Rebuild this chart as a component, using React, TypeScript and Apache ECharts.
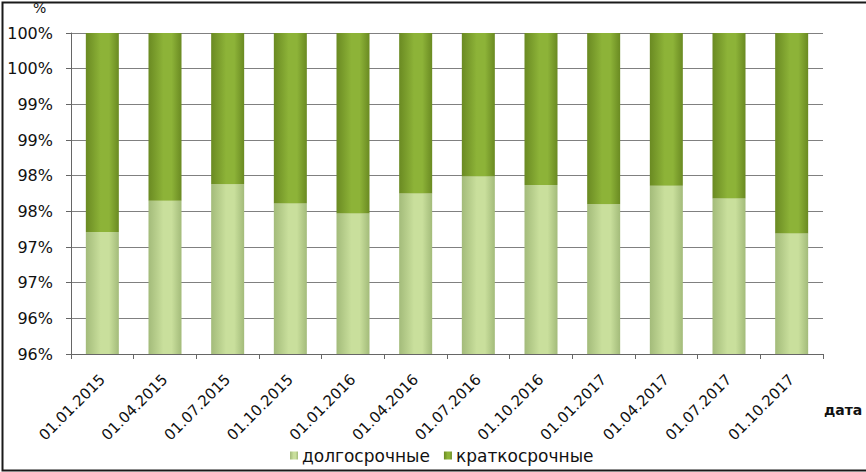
import React, { useEffect, useRef } from "react";
import * as echarts from "echarts";

const categories = [
  "01.01.2015", "01.04.2015", "01.07.2015", "01.10.2015",
  "01.01.2016", "01.04.2016", "01.07.2016", "01.10.2016",
  "01.01.2017", "01.04.2017", "01.07.2017", "01.10.2017",
];
const longTerm = [97.21, 97.65, 97.88, 97.61, 97.47, 97.75, 97.99, 97.87, 97.6, 97.86, 97.68, 97.19];
const shortTerm = longTerm.map((v) => +(100 - v).toFixed(2));
const seriesNames = ["долгосрочные", "краткосрочные"];
const yMin = 95.5;
const yMax = 100;
const yStep = 0.5;

const FONT = "DejaVu Sans";
const TEXT = "#111";

function hGrad(edge: string, mid: string) {
  return new echarts.graphic.LinearGradient(0, 0, 1, 0, [
    { offset: 0, color: edge },
    { offset: 0.45, color: mid },
    { offset: 0.7, color: mid },
    { offset: 1, color: edge },
  ]);
}

export default function App() {
  const ref = useRef<HTMLDivElement>(null);
  useEffect(() => {
    if (!ref.current) return;
    const chart = echarts.init(ref.current, null, { renderer: "svg" });
    chart.setOption({
      animation: false,
      backgroundColor: "#ffffff",
      grid: { left: 71, right: 43, top: 33, bottom: 118, containLabel: false },
      legend: {
        top: 442,
        left: 285,
        icon: "rect",
        itemWidth: 8,
        itemHeight: 8,
        itemGap: 14,
        textStyle: { fontFamily: FONT, fontSize: 17, color: TEXT, padding: [0, 0, 0, -1] },
        data: seriesNames,
      },
      xAxis: {
        type: "category",
        data: categories,
        axisLine: { lineStyle: { color: "#666", width: 1 } },
        axisTick: { show: true, alignWithLabel: false, length: 5, lineStyle: { color: "#666" } },
        axisLabel: { rotate: 45, margin: 23, fontFamily: FONT, fontSize: 15, color: TEXT, interval: 0 },
      },
      yAxis: {
        type: "value",
        min: yMin,
        max: yMax,
        interval: yStep,
        axisLine: { show: true, lineStyle: { color: "#666", width: 1 } },
        axisTick: { show: true, length: 5, lineStyle: { color: "#666" } },
        splitLine: { show: true, lineStyle: { color: "#808080", width: 1 } },
        axisLabel: {
          fontFamily: FONT,
          fontSize: 16,
          color: TEXT,
          margin: 18,
          formatter: (v: number) => Math.round(v) + "%",
        },
      },
      series: [
        {
          name: seriesNames[0],
          type: "bar",
          stack: "total",
          barWidth: 33,
          data: longTerm,
          itemStyle: { color: hGrad("#a3bb7a", "#c9df9c") },
        },
        {
          name: seriesNames[1],
          type: "bar",
          stack: "total",
          barWidth: 33,
          data: shortTerm,
          itemStyle: { color: hGrad("#6a8a22", "#8db338") },
        },
      ],
      graphic: [
        {
          type: "text",
          left: 33,
          top: 1,
          style: { text: "%", fontFamily: FONT, fontSize: 14, fill: TEXT },
        },
        {
          type: "text",
          left: 824,
          top: 403,
          style: { text: "дата", fontFamily: FONT, fontSize: 14, fontWeight: "bold", fill: TEXT },
        },
        {
          type: "rect",
          left: 0,
          top: 0,
          shape: { x: 0, y: 0, width: 866, height: 468 },
          style: { fill: "none", stroke: "#1a1a1a", lineWidth: 2 },
          silent: true,
        },
      ],
    });
    return () => chart.dispose();
  }, []);
  return (
    <div
      ref={ref}
      style={{ position: "fixed", left: 0, top: 0, width: 866, height: 472 }}
    />
  );
}
